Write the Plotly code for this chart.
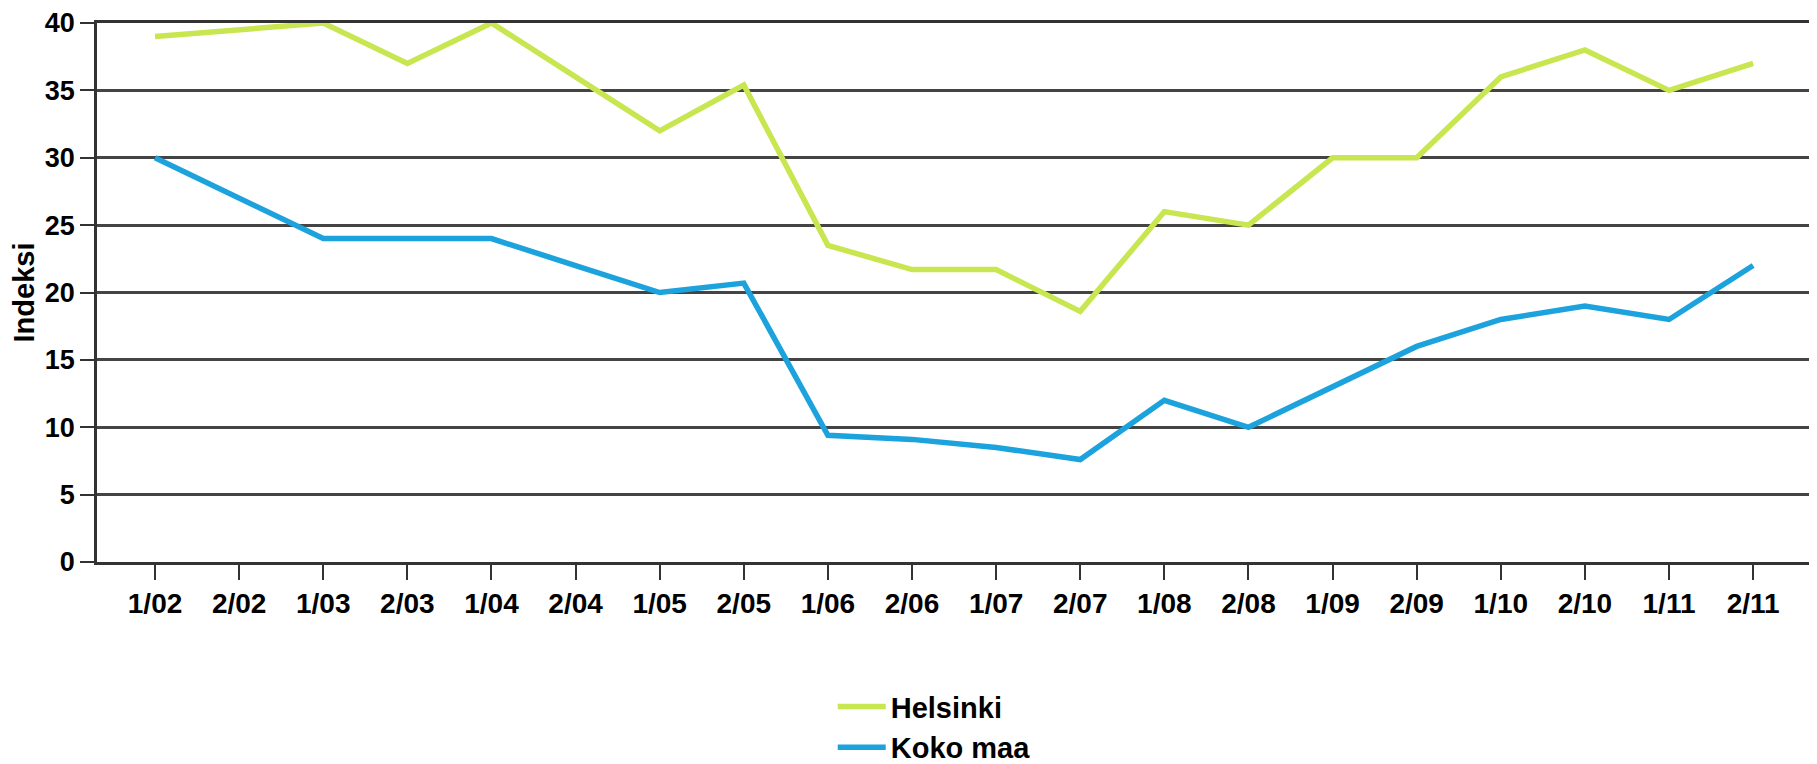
import plotly.graph_objects as go

periods = ["1/02", "2/02", "1/03", "2/03", "1/04", "2/04", "1/05", "2/05", "1/06", "2/06",
           "1/07", "2/07", "1/08", "2/08", "1/09", "2/09", "1/10", "2/10", "1/11", "2/11"]
helsinki = [39, 39.5, 40, 37, 40, 36, 32, 35.4, 23.5, 21.7,
            21.7, 18.6, 26, 25, 30, 30, 36, 38, 35, 37]
koko_maa = [30, 27, 24, 24, 24, 22, 20, 20.7, 9.4, 9.1,
            8.5, 7.6, 12, 10, 13, 16, 18, 19, 18, 22]
y_ticks = [0, 5, 10, 15, 20, 25, 30, 35, 40]

GREEN = "#C8E650"
BLUE = "#1CA2DC"
FONT = "Liberation Sans, Arial, sans-serif"

fig = go.Figure()
fig.add_scatter(x=periods, y=helsinki, mode="lines", name="Helsinki",
                line=dict(color=GREEN, width=5.5))
fig.add_scatter(x=periods, y=koko_maa, mode="lines", name="Koko maa",
                line=dict(color=BLUE, width=5.5))

# page body has an 8px margin, so the figure is 8px smaller than the window
fig.update_layout(
    width=1809, height=756,
    margin=dict(l=89, r=5, t=15, b=202, autoexpand=False),
    paper_bgcolor="white", plot_bgcolor="white",
    font=dict(family=FONT, size=28, color="black", weight="bold"),
    showlegend=True,
    legend=dict(
        orientation="v", x=0.429, y=-0.221, xanchor="left", yanchor="top",
        font=dict(size=29, weight="bold"), itemwidth=48,
        bgcolor="rgba(0,0,0,0)",
    ),
)
fig.update_xaxes(
    type="category", range=[-0.69, 19.7],
    showline=True, linecolor="#333333", linewidth=2.5, mirror=True,
    ticks="outside", ticklen=15, tickwidth=2, tickcolor="#333333",
    showgrid=False, tickfont=dict(size=28, weight="bold"),
)
fig.update_yaxes(
    range=[0, 40], tickvals=y_ticks,
    showline=True, linecolor="#333333", linewidth=2.5, mirror=True,
    ticks="outside", ticklen=14, tickwidth=2, tickcolor="#333333",
    showgrid=True, gridcolor="#444444", gridwidth=2.5,
    zeroline=False, tickfont=dict(size=27, weight="bold"),
    ticklabeloverflow="allow",
    title=dict(text="Indeksi", font=dict(size=29, weight="bold"), standoff=8),
)

fig.write_html("out.html")
